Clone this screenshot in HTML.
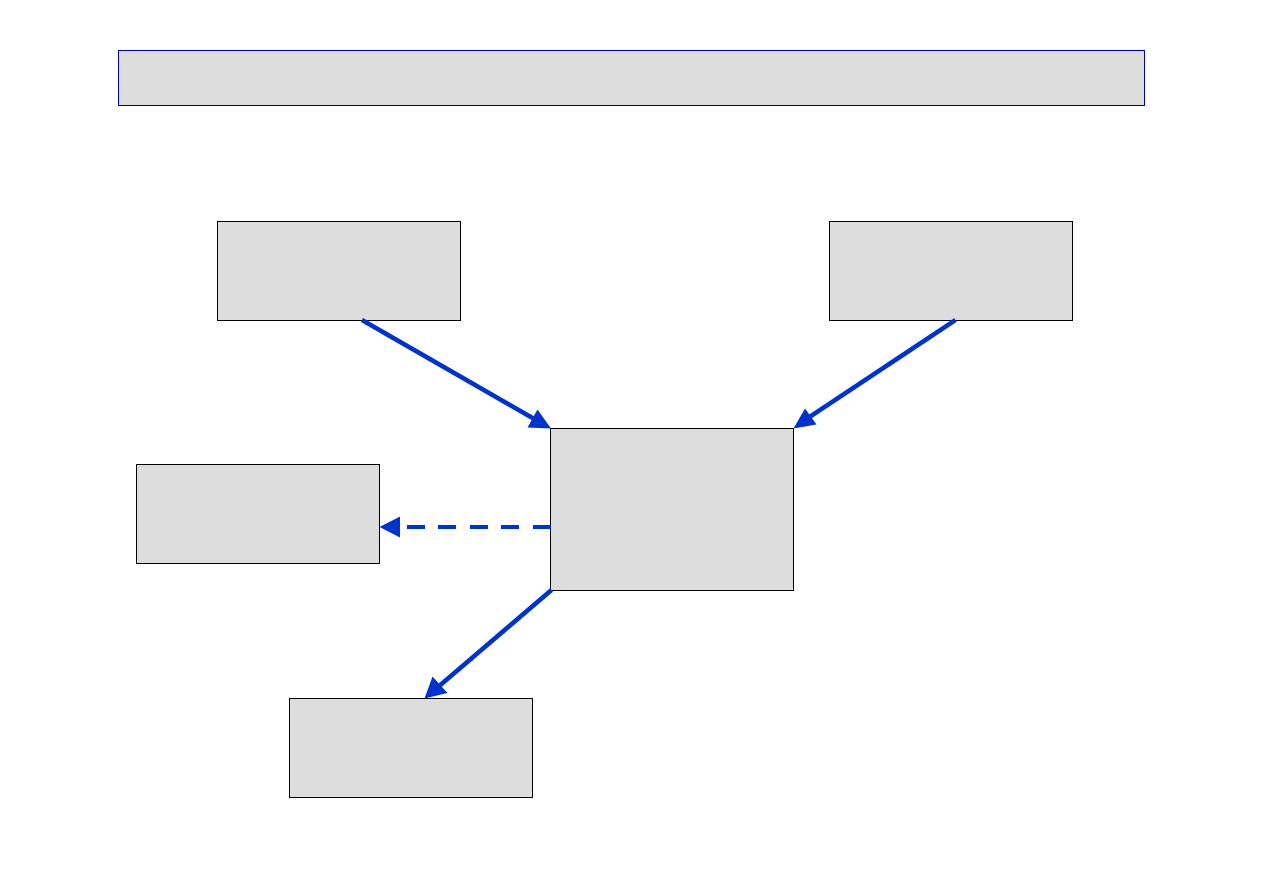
<!DOCTYPE html>
<html>
<head>
<meta charset="utf-8">
<style>
html,body{margin:0;padding:0;background:#fff;width:1263px;height:893px;overflow:hidden}
svg{display:block}
</style>
</head>
<body>
<svg width="1263" height="893" viewBox="0 0 1263 893" xmlns="http://www.w3.org/2000/svg">
<rect width="1263" height="893" fill="#fff"/>
<g fill="#dddddd" stroke="#000" stroke-width="1">
<rect x="118.5" y="50.5" width="1026" height="55" stroke="#0000b0"/>
<rect x="217.5" y="221.5" width="243" height="99"/>
<rect x="829.5" y="221.5" width="243" height="99"/>
<rect x="550.5" y="428.5" width="243" height="162"/>
<rect x="136.5" y="464.5" width="243" height="99"/>
<rect x="289.5" y="698.5" width="243" height="99"/>
</g>
<g stroke="#0033cc" stroke-width="4.6" fill="none">
<line x1="362" y1="320" x2="536" y2="420"/>
<line x1="955.5" y1="320" x2="808" y2="418"/>
<line x1="551.5" y1="590" x2="438" y2="687"/>
</g>
<g fill="#0033cc">
<rect x="407" y="525" width="18" height="4"/>
<rect x="438" y="525" width="18" height="4"/>
<rect x="470" y="525" width="18" height="4"/>
<rect x="501" y="525" width="18" height="4"/>
<rect x="533" y="525" width="18" height="4"/>
<polygon points="551,428.5 537.5,409.5 527.5,427.5"/>
<polygon points="793.5,428.5 805,408.5 816.5,424.5"/>
<polygon points="424.5,698.5 432.5,676.5 447.5,693"/>
<polygon points="379.5,527 400,516.5 400,537.5"/>
</g>
</svg>
</body>
</html>
